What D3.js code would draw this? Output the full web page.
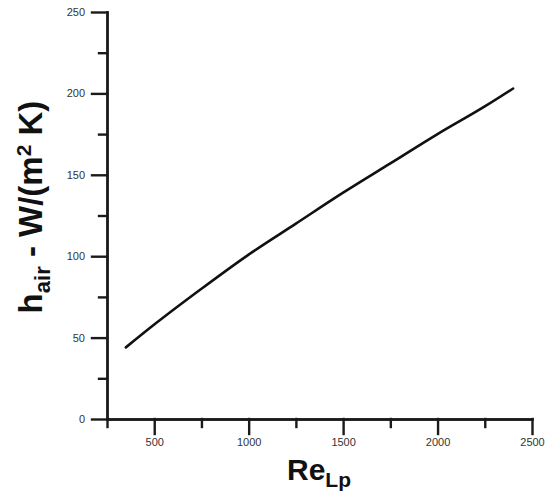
<!DOCTYPE html>
<html>
<head>
<meta charset="utf-8">
<script src="https://cdn.jsdelivr.net/npm/d3@7"></script>
<style>
  body { margin: 0; background: #fff; }
  svg { display: block; font-family: "Liberation Sans", Arial, sans-serif; }
</style>
</head>
<body>
<svg class="canvas" width="549" height="497"></svg>
<script>
// data
const reLp = [350, 500, 750, 1000, 1250, 1500, 1750, 2000, 2250, 2400];
const hAir = [44, 58, 80, 101, 120, 139, 157, 175, 192, 203];
const xTicks = [500, 1000, 1500, 2000, 2500];
const xMinor = [250, 750, 1250, 1750, 2250];
const yTicks = [0, 50, 100, 150, 200, 250];
const yMinor = [25, 75, 125, 175, 225];

const svg = d3.select(".canvas");

const x = d3.scaleLinear().domain([250, 2500]).range([107, 532]);
const y = d3.scaleLinear().domain([0, 250]).range([419, 12]);

// minor ticks first
svg.append("g")
  .attr("transform", "translate(0,419)")
  .call(d3.axisBottom(x).tickValues(xMinor).tickSize(8).tickSizeOuter(0).tickFormat(""));
svg.append("g")
  .attr("transform", "translate(107,0)")
  .call(d3.axisLeft(y).tickValues(yMinor).tickSize(8).tickSizeOuter(0).tickFormat(""));

const xAxisGroup = svg.append("g")
  .attr("transform", "translate(0,419)")
  .call(d3.axisBottom(x).tickValues(xTicks).tickSize(15).tickSizeOuter(0)
    .tickPadding(8).tickFormat(d3.format("d")));
const yAxisGroup = svg.append("g")
  .attr("transform", "translate(107,0)")
  .call(d3.axisLeft(y).tickValues(yTicks).tickSize(15).tickSizeOuter(0)
    .tickPadding(7).tickFormat(d3.format("d")));

svg.selectAll(".domain, .tick line")
  .style("stroke", "#1a1a1a")
  .style("stroke-width", "2.4px")
  .style("stroke-linecap", "square");

svg.selectAll(".tick text")
  .style("fill", "#333")
  .style("font-size", "11px")
  .style("font-family", "Liberation Sans, Arial, sans-serif");

xAxisGroup.selectAll("text").attr("dy", "0.4em");

// curve
const pts = reLp.map((d, i) => [d, hAir[i]]);
const line = d3.line()
  .x((d) => x(d[0]))
  .y((d) => y(d[1]))
  .curve(d3.curveMonotoneX);

svg.append("path")
  .datum(pts)
  .attr("d", line)
  .attr("fill", "none")
  .attr("stroke", "#111")
  .attr("stroke-width", 2.6)
  .attr("stroke-linecap", "round");

// axis titles
const xt = svg.append("text")
  .attr("x", 319)
  .attr("y", 480)
  .attr("text-anchor", "middle")
  .style("font-weight", "bold")
  .style("font-size", "30px")
  .attr("fill", "#111");
xt.append("tspan").text("Re");
xt.append("tspan").attr("dy", 7).style("font-size", "21px").text("Lp");

const yt = svg.append("text")
  .attr("transform", "translate(42,207) rotate(-90)")
  .attr("text-anchor", "middle")
  .style("font-weight", "bold")
  .style("font-size", "33px")
  .attr("fill", "#111");
yt.append("tspan").text("h");
yt.append("tspan").attr("dy", 8).style("font-size", "22px").text("air");
yt.append("tspan").attr("dy", -8).text(" - W/(m");
yt.append("tspan").attr("dy", -11).style("font-size", "21px").text("2");
yt.append("tspan").attr("dy", 11).text(" K)");
</script>
</body>
</html>
